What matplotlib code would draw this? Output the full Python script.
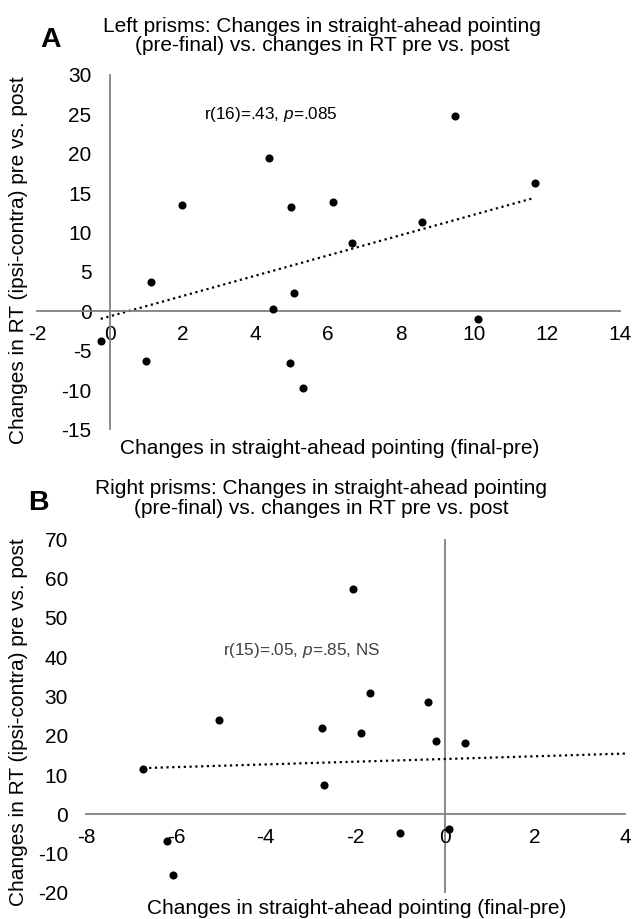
import matplotlib
matplotlib.use("Agg")
import numpy as np
from matplotlib import pyplot as plt

plt.rcParams['font.family'] = ['Liberation Sans', 'DejaVu Sans']
plt.rcParams['mathtext.fontset'] = 'custom'
plt.rcParams['mathtext.it'] = 'Liberation Sans:italic'
plt.rcParams['mathtext.rm'] = 'Liberation Sans'
plt.rcParams['axes.unicode_minus'] = False

# panel A: left prisms
left_x = [-0.25, 0.99, 1.14, 1.99, 4.36, 4.48, 4.99, 5.07, 4.95, 5.32,
          6.12, 6.66, 8.57, 9.48, 10.12, 11.67]
left_y = [-3.73, -6.27, 3.69, 13.5, 19.5, 0.30, 13.26, 2.29, -6.53, -9.75,
          13.94, 8.69, 11.36, 24.75, -0.97, 16.31]
left_xticks = [-2, 0, 2, 4, 6, 8, 10, 12, 14]
left_yticks = [-15, -10, -5, 0, 5, 10, 15, 20, 25, 30]

# panel B: right prisms
right_x = [-6.73, -6.21, -6.06, -5.05, -2.75, -2.71, -2.05, -1.87, -1.69,
           -1.01, -0.38, -0.22, 0.07, 0.44]
right_y = [11.6, -6.78, -15.4, 24.07, 22.1, 7.46, 57.4, 20.6, 30.9,
           -4.75, 28.6, 18.6, -3.64, 18.05]
right_xticks = [-8, -6, -4, -2, 0, 2, 4]
right_yticks = [-20, -10, 0, 10, 20, 30, 40, 50, 60, 70]
# excel trendline (fit includes points hidden under others)
right_trend_slope = 0.344
right_trend_icpt = 14.1

xlabel = "Changes in straight-ahead pointing (final-pre)"
ylabel = "Changes in RT (ipsi-contra) pre vs. post"

W, H = 633, 919
fig = plt.figure(figsize=(W/100, H/100), dpi=100)

def fx(px):
    return px / W

def fy(py):
    return 1 - py / H

AXIS_GREY = '#808080'
FS = 15


def style_axes(ax, xticks, yticks, left_on_zero):
    ax.set_xlim(xticks[0], xticks[-1])
    ax.set_ylim(yticks[0], yticks[-1])
    ax.set_xticks(xticks)
    ax.set_yticks(yticks)
    ax.patch.set_alpha(0)
    for s in ['top', 'right']:
        ax.spines[s].set_visible(False)
    ax.spines['bottom'].set_position(('data', 0))
    ax.spines['bottom'].set_color(AXIS_GREY)
    ax.spines['bottom'].set_linewidth(1.3)
    if left_on_zero:
        ax.spines['left'].set_position(('data', 0))
        ax.spines['left'].set_color(AXIS_GREY)
        ax.spines['left'].set_linewidth(1.3)
    else:
        ax.spines['left'].set_visible(False)
        ax.axvline(0, color=AXIS_GREY, lw=1.3, zorder=1)
    ax.tick_params(axis='x', length=0, pad=9.5, labelsize=FS)
    ax.tick_params(axis='y', length=0, pad=13.2, labelsize=FS)


# ---- A
axA = fig.add_axes([fx(37), fy(429.5), fx(619.5) - fx(37), fy(75) - fy(429.5)])
style_axes(axA, left_xticks, left_yticks, True)
axA.scatter(left_x, left_y, s=34, color='black', zorder=3, linewidths=0)
k, b = np.polyfit(left_x, left_y, 1)
tx = np.array([min(left_x), max(left_x)])
axA.plot(tx, k * tx + b, color='black', lw=1.6, ls=(0, (1, 1.6)), zorder=2)

fig.text(fx(204), fy(115), "r(16)=.43, $p$=.085", fontsize=12.3, va='center', ha='left')
fig.text(fx(322), fy(36), "Left prisms: Changes in straight-ahead pointing\n(pre-final) vs. changes in RT pre vs. post",
         fontsize=FS, ha='center', va='center', linespacing=1.05)
fig.text(fx(51), fy(40), "A", fontsize=20.5, fontweight='bold', ha='center', va='center')
fig.text(fx(330), fy(448), xlabel, fontsize=FS, ha='center', va='center')
fig.text(fx(19), fy(260), ylabel, fontsize=FS, ha='center', va='center', rotation=90)

# ---- B
axB = fig.add_axes([fx(86.3), fy(893), fx(625) - fx(86.3), fy(539.3) - fy(893)])
style_axes(axB, right_xticks, right_yticks, False)
axB.scatter(right_x, right_y, s=34, color='black', zorder=3, linewidths=0)
tx = np.array([min(right_x), right_xticks[-1]])
axB.plot(tx, right_trend_slope * tx + right_trend_icpt, color='black', lw=1.6,
         ls=(0, (1, 1.6)), zorder=2)

fig.text(fx(223), fy(650), "r(15)=.05, $p$=.85, NS", fontsize=12.3, va='center', ha='left',
         color='#404040')
fig.text(fx(321), fy(498.5), "Right prisms: Changes in straight-ahead pointing\n(pre-final) vs. changes in RT pre vs. post",
         fontsize=FS, ha='center', va='center', linespacing=1.05)
fig.text(fx(38), fy(503), "B", fontsize=20.5, fontweight='bold', ha='center', va='center')
fig.text(fx(357), fy(908), xlabel, fontsize=FS, ha='center', va='center')
fig.text(fx(19), fy(722), ylabel, fontsize=FS, ha='center', va='center', rotation=90)

fig.savefig("out.png", dpi=100)
